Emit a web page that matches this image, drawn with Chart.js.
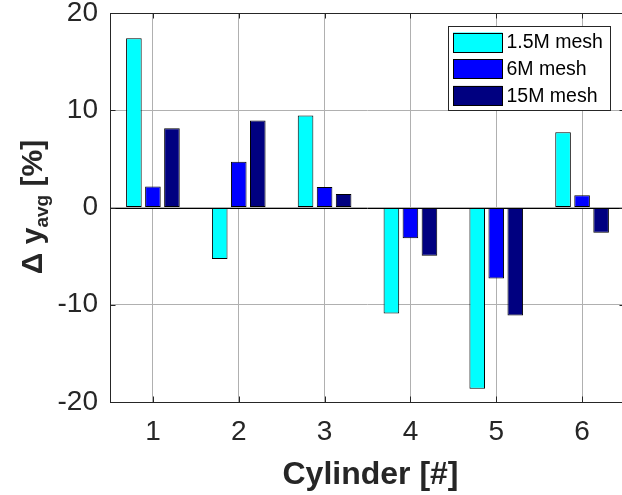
<!DOCTYPE html>
<html>
<head>
<meta charset="utf-8">
<script src="https://cdn.jsdelivr.net/npm/chart.js@4/dist/chart.umd.min.js"></script>
<style>
  html, body { margin: 0; padding: 0; background: #fff; overflow: hidden; }
  #wrap { width: 630px; height: 495px; }
</style>
</head>
<body>
<div id="wrap"><canvas id="cyl" width="630" height="495"></canvas></div>
<script>
// cylinders on the x axis
const cylinders = ['1', '2', '3', '4', '5', '6'];

// relative error of y_avg in %, per mesh
const mesh15M = [17.4, -5.3, 9.45, -10.9, -18.65, 7.75];
const mesh6M = [2.15, 4.7, 2.1, -3.15, -7.3, 1.25];
const mesh15Mfine = [8.15, 8.95, 1.4, -4.95, -11.1, -2.6];

const meshLabels = ['1.5M mesh', '6M mesh', '15M mesh'];
const yTicks = [-20, -10, 0, 10, 20];

const ink = '#262626';
const fontFam = '"Liberation Sans", Arial, Helvetica, sans-serif';

// box, inward ticks, zero baseline, legend and axis titles
const matlabLook = {
    id: 'matlabLook',
    beforeDatasetsDraw(chart) {
        const {ctx, chartArea: a, scales: {y}} = chart;
        const y0 = Math.round(y.getPixelForValue(0)) + 0.5;
        ctx.save();
        ctx.strokeStyle = '#000';
        ctx.lineWidth = 1;
        ctx.beginPath();
        ctx.moveTo(a.left, y0);
        ctx.lineTo(a.right, y0);
        ctx.stroke();
        ctx.restore();
    },
    afterDraw(chart) {
        const {ctx, chartArea: a, scales: {x, y}} = chart;
        const tl = 5.5;
        ctx.save();
        ctx.strokeStyle = ink;
        ctx.lineWidth = 1;
        ctx.strokeRect(Math.round(a.left) + 0.5, Math.round(a.top) + 0.5,
            Math.round(a.right - a.left), Math.round(a.bottom - a.top));
        ctx.beginPath();
        yTicks.forEach(v => {
            const py = Math.round(y.getPixelForValue(v)) + 0.5;
            ctx.moveTo(a.left, py); ctx.lineTo(a.left + tl, py);
            ctx.moveTo(a.right, py); ctx.lineTo(a.right - tl, py);
        });
        cylinders.forEach((c, i) => {
            const px = Math.round(x.getPixelForValue(i)) + 0.5;
            ctx.moveTo(px, a.bottom); ctx.lineTo(px, a.bottom - tl);
            ctx.moveTo(px, a.top); ctx.lineTo(px, a.top + tl);
        });
        ctx.stroke();

        // legend
        const lx = 448, ly = 26, lw = 162, lh = 84;
        ctx.fillStyle = '#fff';
        ctx.fillRect(lx, ly, lw, lh);
        ctx.strokeStyle = ink;
        ctx.strokeRect(lx + 0.5, ly + 0.5, lw, lh);
        ctx.font = '19.5px ' + fontFam;
        ctx.textBaseline = 'middle';
        ctx.textAlign = 'left';
        chart.data.datasets.forEach((ds, i) => {
            const sy = 32.5 + i * 26.7;
            ctx.fillStyle = ds.backgroundColor;
            ctx.fillRect(453, sy, 49.5, 19.5);
            ctx.strokeStyle = '#000';
            ctx.strokeRect(453.5, Math.round(sy) + 0.5, 49, 19);
            ctx.fillStyle = '#000';
            ctx.fillText(ds.label, 506.5, sy + 10.5);
        });

        // x title
        ctx.fillStyle = ink;
        ctx.font = 'bold 32px ' + fontFam;
        ctx.textAlign = 'center';
        ctx.textBaseline = 'alphabetic';
        ctx.fillText('Cylinder [#]', 370.5, 484);

        // y title with subscript
        ctx.translate(41.5, 207);
        ctx.rotate(-Math.PI / 2);
        ctx.textAlign = 'left';
        const big = 'bold 30px ' + fontFam, small = 'bold 19px ' + fontFam;
        ctx.font = big;
        const w1 = ctx.measureText('\u0394 y').width;
        const w3 = ctx.measureText(' [%]').width;
        ctx.font = small;
        const w2 = ctx.measureText('avg').width;
        let cx = -(w1 + w2 + w3) / 2;
        ctx.font = big;
        ctx.fillText('\u0394 y', cx, 0);
        cx += w1;
        ctx.font = small;
        ctx.fillText('avg', cx, 6);
        cx += w2;
        ctx.font = big;
        ctx.fillText(' [%]', cx, 0);
        ctx.restore();
    }
};

const ctx = document.getElementById('cyl').getContext('2d');
const chart = new Chart(ctx, {
    type: 'bar',
    data: {
        labels: cylinders,
        datasets: [
            { label: meshLabels[0], data: mesh15M, backgroundColor: '#00ffff' },
            { label: meshLabels[1], data: mesh6M, backgroundColor: '#0000ff' },
            { label: meshLabels[2], data: mesh15Mfine, backgroundColor: '#000080' }
        ]
    },
    options: {
        responsive: false,
        animation: false,
        layout: { padding: { top: 13, right: 5, left: 0, bottom: 0 } },
        datasets: {
            bar: {
                borderColor: '#000',
                borderWidth: 1,
                borderSkipped: false,
                categoryPercentage: 0.665,
                barPercentage: 0.82
            }
        },
        plugins: {
            legend: { display: false },
            tooltip: { enabled: false }
        },
        scales: {
            x: {
                grid: { offset: false, color: '#b0b0b0', drawTicks: false },
                border: { display: false },
                ticks: { color: ink, padding: 16, font: { family: fontFam, size: 28, lineHeight: 1 } },
                afterFit(s) { s.height = 93; s.paddingLeft = 0; s.paddingRight = 0; }
            },
            y: {
                min: -20,
                max: 20,
                grid: { color: '#b0b0b0', drawTicks: false },
                border: { display: false },
                afterBuildTicks(s) { s.ticks = yTicks.map(v => ({ value: v })); },
                ticks: { color: ink, padding: 12, font: { family: fontFam, size: 28, lineHeight: 1 } },
                afterFit(s) { s.width = 110; s.paddingTop = 0; s.paddingBottom = 0; }
            }
        }
    },
    plugins: [matlabLook]
});
</script>
</body>
</html>
